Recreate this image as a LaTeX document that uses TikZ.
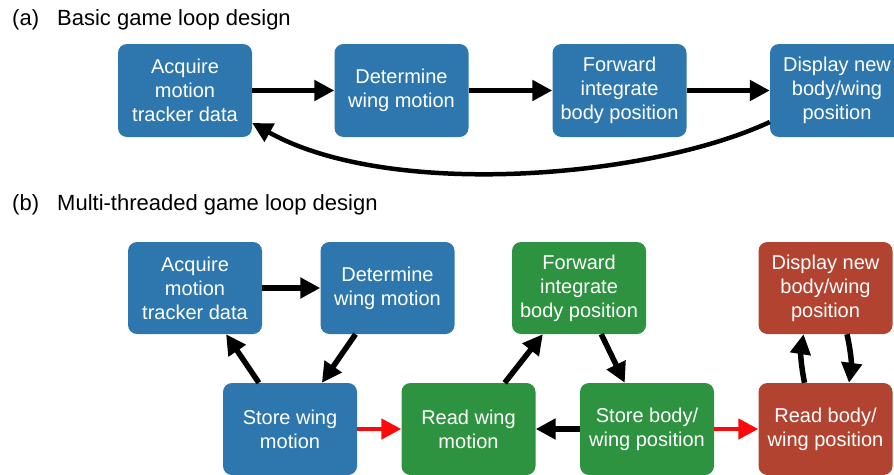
\documentclass[tikz,border=0pt]{standalone}
\usepackage{fontspec}
\setmainfont{Liberation Sans}
\usetikzlibrary{arrows.meta}
\definecolor{cblue}{RGB}{46,119,174}
\definecolor{cgreen}{RGB}{46,147,64}
\definecolor{cred}{RGB}{178,67,48}
\definecolor{carrowred}{RGB}{250,10,10}
\begin{document}
\begin{tikzpicture}[x=1pt,y=-1pt,
  box/.style={rounded corners=9pt, minimum width=134pt, minimum height=93pt, inner sep=0pt,
    text=white, align=center, font=\fontsize{20}{24}\selectfont},
  bluebox/.style={box, fill=cblue},
  greenbox/.style={box, fill=cgreen},
  redbox/.style={box, fill=cred},
  arr/.style={line width=5.5pt, -{Triangle[length=20pt,width=20pt]}},
  redarr/.style={arr, line width=4.5pt, draw=carrowred},
  title/.style={anchor=base west, inner sep=0pt, font=\fontsize{22}{26}\selectfont}
]
\useasboundingbox (0,0) rectangle (894,474);
\clip (0,0) rectangle (894,474);

% titles
\node[title] (ta) at (12,25) {(a)};
\node[title] (tat) at (57,25) {Basic game loop design};
\node[title] (tb) at (12,210) {(b)};
\node[title] (tbt) at (57,210) {Multi-threaded game loop design};

% (a) boxes
\node[bluebox] (A1) at (185,90.5) {Acquire\\motion\\tracker data};
\node[bluebox] (A2) at (401.5,90.5) {Determine\\wing motion};
\node[bluebox] (A3) at (619.5,90.5) {Forward\\integrate\\body position};
\node[bluebox] (A4) at (837,90.5) {Display new\\body/wing\\position};

\draw[arr] (A1) -- (A2);
\draw[arr] (A2) -- (A3);
\draw[arr] (A3) -- (A4);
\draw[arr, line width=4.5pt] ([yshift=-31.5pt]A4.west) .. controls (650,178) and (390,200) .. ([yshift=-32.5pt]A1.east);

% (b) boxes
\node[bluebox, minimum height=92pt] (B1) at (195,288) {Acquire\\motion\\tracker data};
\node[bluebox, minimum height=92pt] (B2) at (387.5,288) {Determine\\wing motion};
\node[bluebox, minimum height=92pt] (B3) at (290,429) {Store wing\\motion};
\node[greenbox, minimum height=92pt] (B4) at (468.5,429) {Read wing\\motion};
\node[greenbox, minimum height=92pt] (B5) at (579,288) {Forward\\integrate\\body position};
\node[greenbox, minimum height=92pt] (B6) at (647,429) {Store body/\\wing position};
\node[redbox, minimum height=92pt] (B7) at (825.5,288) {Display new\\body/wing\\position};
\node[redbox, minimum height=92pt] (B8) at (825.5,429) {Read body/\\wing position};

\draw[arr] (B1) -- (B2);
\draw[arr] (B2) -- (B3);
\draw[arr] (B3) -- (B1);
\draw[redarr] (B3) -- (B4);
\draw[arr] (B4) -- (B5);
\draw[arr] (B5) -- (B6);
\draw[arr] (B6) -- (B4);
\draw[redarr] (B6) -- (B8);
\draw[arr] ([xshift=-21pt]B8.north) to[bend left=10] ([xshift=-22pt]B7.south);
\draw[arr] ([xshift=21.5pt]B7.south) to[bend left=10] ([xshift=23.5pt]B8.north);
\end{tikzpicture}
\end{document}
